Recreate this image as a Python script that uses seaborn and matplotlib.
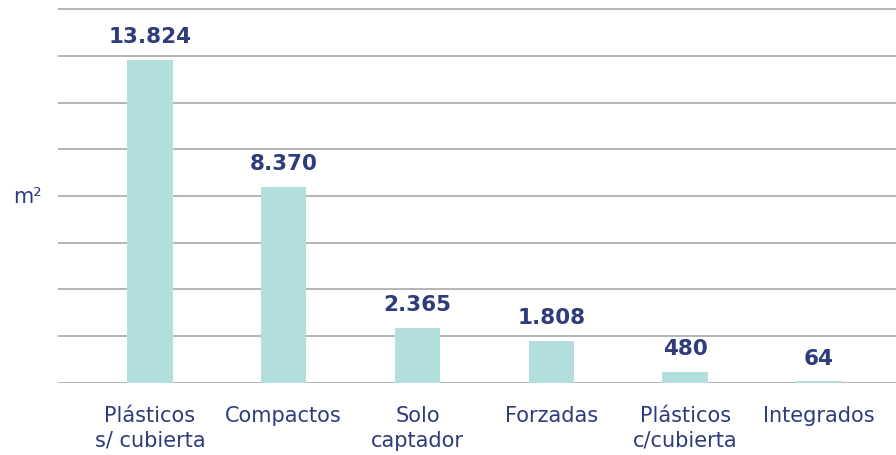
import pandas as pd
import seaborn as sns
import matplotlib.pyplot as plt

# data
categorias = ['Plásticos\ns/ cubierta', 'Compactos', 'Solo\ncaptador', 'Forzadas',
              'Plásticos\nc/cubierta', 'Integrados']
superficie = [13824, 8370, 2365, 1808, 480, 64]
etiquetas = ['13.824', '8.370', '2.365', '1.808', '480', '64']

navy = '#2e3b7c'
teal = '#b2dfdd'

df = pd.DataFrame({'tipo': categorias, 'm2': superficie})

sns.set_theme(style='white')
plt.rcParams['font.family'] = ['DejaVu Sans']

fig = plt.figure(figsize=(8.96, 4.56), dpi=100)
ax = fig.add_axes([0.0647, 0.158, 0.9353, 0.822])

sns.barplot(data=df, x='tipo', y='m2', color=teal, width=0.34,
            saturation=1, linewidth=0, ax=ax, zorder=3)

for i, (v, lab) in enumerate(zip(superficie, etiquetas)):
  ax.annotate(lab, (i, v), xytext=(0, 10), textcoords='offset points',
              ha='center', va='bottom', fontsize=15.5, fontweight='bold', color=navy)

ax.set_ylim(0, 16040)
ax.set_xlim(-0.687, 5.575)
ax.set_yticks(range(0, 16001, 2000))
ax.set_yticklabels([])
ax.tick_params(axis='y', length=0)
ax.tick_params(axis='x', length=0, pad=16, labelsize=15, labelcolor=navy)
for t in ax.get_xticklabels():
  t.set_linespacing(1.3)
ax.yaxis.grid(True, color='#b4b4b4', linewidth=1.4, zorder=0)
ax.xaxis.grid(False)
for s in ax.spines.values():
  s.set_visible(False)

ax.set_xlabel('')
ax.set_ylabel('m²', rotation=0, fontsize=15, color=navy, va='center', ha='center')
ax.yaxis.set_label_coords(-0.036, 0.5)

plt.savefig('out.png', dpi=100)
